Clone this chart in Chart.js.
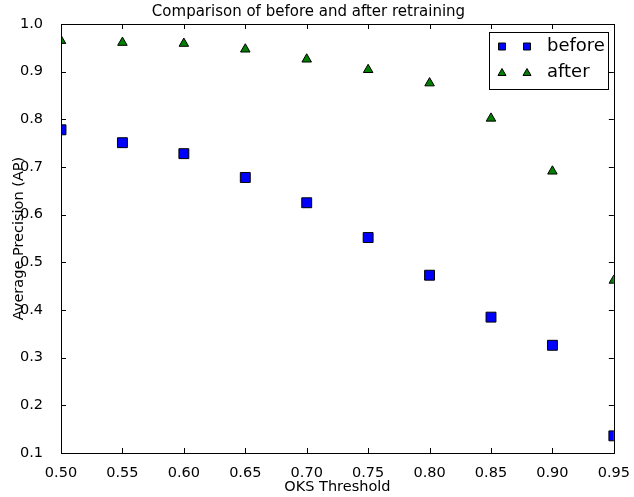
<!DOCTYPE html>
<html>
<head>
<meta charset="utf-8">
<script src="https://cdn.jsdelivr.net/npm/chart.js@4.4.1/dist/chart.umd.min.js"></script>
<style>
  html, body { margin: 0; padding: 0; background: #fff; }
  #wrap { width: 634px; height: 497px; }
</style>
</head>
<body>
<div id="wrap"><canvas id="chart" width="634" height="497"></canvas></div>
<script>
// OKS thresholds on the x axis
const thresholds = [0.50, 0.55, 0.60, 0.65, 0.70, 0.75, 0.80, 0.85, 0.90, 0.95];
// AP values
const apBefore = [0.778, 0.751, 0.728, 0.678, 0.625, 0.552, 0.473, 0.385, 0.326, 0.136];
const apAfter = [0.965, 0.961, 0.959, 0.947, 0.926, 0.904, 0.876, 0.802, 0.691, 0.462];
const seriesLabels = ['before', 'after'];

const FONT = 'DejaVu Sans';

function toPoints(xs, ys) {
  return xs.map((x, i) => ({ x: x, y: ys[i] }));
}

// Draws the frame, inward ticks on all four sides and the boxed legend
const frameAndLegend = {
  id: 'frameAndLegend',
  afterDraw(chart) {
    const ctx = chart.ctx;
    const area = chart.chartArea;
    const xs = chart.scales.x;
    const ys = chart.scales.y;
    const tl = 5;
    ctx.save();
    ctx.strokeStyle = '#000';
    ctx.lineWidth = 1;
    ctx.beginPath();
    xs.ticks.forEach(t => {
      const px = Math.round(xs.getPixelForValue(t.value)) + 0.5;
      ctx.moveTo(px, area.bottom);
      ctx.lineTo(px, area.bottom - tl);
      ctx.moveTo(px, area.top);
      ctx.lineTo(px, area.top + tl);
    });
    ys.ticks.forEach(t => {
      const py = Math.round(ys.getPixelForValue(t.value)) + 0.5;
      ctx.moveTo(area.left, py);
      ctx.lineTo(area.left + tl, py);
      ctx.moveTo(area.right, py);
      ctx.lineTo(area.right - tl, py);
    });
    ctx.stroke();
    ctx.strokeRect(Math.round(area.left) + 0.5, Math.round(area.top) + 0.5,
      Math.round(area.right - area.left), Math.round(area.bottom - area.top));

    // legend box
    const bx = 489.5, by = 32.5, bw = 119, bh = 57;
    ctx.fillStyle = '#fff';
    ctx.fillRect(bx, by, bw, bh);
    ctx.strokeRect(bx, by, bw, bh);
    ctx.font = '18px "' + FONT + '"';
    ctx.textBaseline = 'middle';
    ctx.textAlign = 'left';
    chart.data.datasets.forEach((ds, i) => {
      const cy = by + 14 + i * 26;
      [502, 527].forEach(cx => {
        ctx.fillStyle = ds.backgroundColor;
        ctx.beginPath();
        if (ds.pointStyle === 'rect') {
          ctx.rect(cx - 3.5, cy - 3.5, 7, 7);
        } else {
          ctx.moveTo(cx, cy - 4);
          ctx.lineTo(cx - 4, cy + 3);
          ctx.lineTo(cx + 4, cy + 3);
          ctx.closePath();
        }
        ctx.fill();
        ctx.stroke();
      });
      ctx.fillStyle = '#000';
      ctx.fillText(ds.label, 547, cy);
    });
    ctx.restore();
  }
};

new Chart(document.getElementById('chart'), {
  type: 'scatter',
  data: {
    datasets: [{
      label: seriesLabels[0],
      data: toPoints(thresholds, apBefore),
      pointStyle: 'rect',
      pointRadius: 7,
      pointHoverRadius: 7,
      backgroundColor: '#0000ff',
      borderColor: '#000',
      borderWidth: 1,
      clip: 0,
    }, {
      label: seriesLabels[1],
      data: toPoints(thresholds, apAfter),
      pointStyle: 'triangle',
      pointRadius: 5.5,
      pointHoverRadius: 5.5,
      backgroundColor: '#008000',
      borderColor: '#000',
      borderWidth: 1,
      clip: 0,
    }],
  },
  options: {
    responsive: false,
    animation: false,
    layout: { padding: { left: 0, right: 17, top: 0, bottom: 0 } },
    plugins: {
      legend: { display: false },
      tooltip: { enabled: false },
      title: {
        display: true,
        text: 'Comparison of before and after retraining',
        color: '#000',
        font: { family: FONT, size: 15, weight: 'normal' },
        padding: { top: 3, bottom: 3 },
      },
    },
    scales: {
      x: {
        type: 'linear',
        min: 0.5,
        max: 0.95,
        grid: { display: false },
        border: { display: false },
        ticks: {
          stepSize: 0.05,
          color: '#000',
          padding: 4,
          font: { family: FONT, size: 14.5 },
          callback: v => v.toFixed(2),
        },
        title: {
          display: true,
          text: 'OKS Threshold',
          color: '#000',
          font: { family: FONT, size: 14.5 },
          padding: { top: 1, bottom: 1 },
        },
        afterFit: s => { s.height = 44; },
      },
      y: {
        type: 'linear',
        min: 0.1,
        max: 1.0,
        grid: { display: false },
        border: { display: false },
        ticks: {
          stepSize: 0.1,
          color: '#000',
          padding: 10,
          font: { family: FONT, size: 14.5 },
          callback: v => v.toFixed(1),
        },
        title: {
          display: true,
          text: 'Average Precision (AP)',
          color: '#000',
          font: { family: FONT, size: 14.5 },
          padding: { top: 11, bottom: 2 },
        },
        afterFit: s => { s.width = 61; },
      },
    },
  },
  plugins: [frameAndLegend],
});
</script>
</body>
</html>
